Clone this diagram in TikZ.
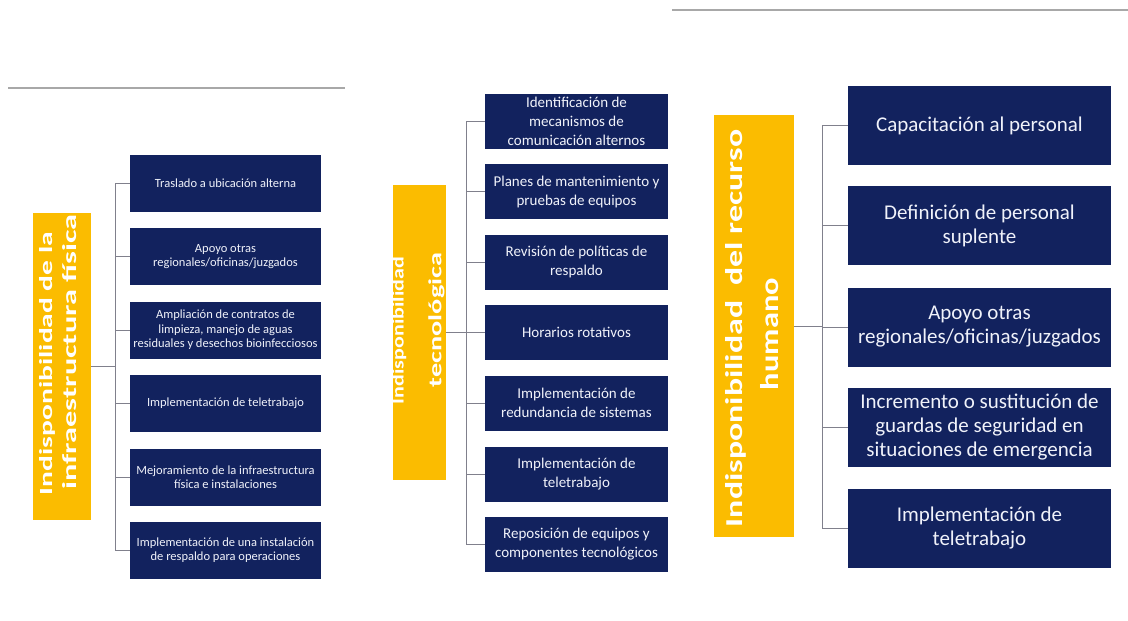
\documentclass[tikz,border=0pt]{standalone}
\usepackage{fontspec}
\setmainfont{Carlito}
\definecolor{navy}{HTML}{12225E}
\definecolor{gold}{HTML}{FBBC00}
\definecolor{conn}{HTML}{80808C}
\definecolor{rulegray}{HTML}{A8A8A8}
\definecolor{boxtext}{HTML}{F0F2FA}
\begin{document}
\begin{tikzpicture}[x=1pt,y=-1pt,
  box/.style={fill=navy, text=boxtext, align=center, inner sep=0pt, anchor=center},
  lbox/.style={box, minimum width=191pt, minimum height=57pt, font=\fontsize{12.5}{14.5}\selectfont},
  mbox/.style={box, minimum width=183pt, minimum height=55pt, font=\fontsize{15}{19}\selectfont},
  rbox/.style={box, minimum width=263pt, minimum height=79pt, font=\fontsize{21}{24}\selectfont},
  ybox/.style={fill=gold, inner sep=0pt, anchor=center},
  ytext/.style={text=white, inner sep=0pt, rotate=90, anchor=center},
  link/.style={draw=conn, line width=1pt},
  topline/.style={draw=rulegray, line width=2pt}]
\useasboundingbox (0,0) rectangle (1128,621);
\fill[white] (0,0) rectangle (1128,621);

% decorative rules
\coordinate (ta) at (672,10);
\coordinate (tb) at (1128,10);
\coordinate (la) at (8,88);
\coordinate (lb) at (345,88);
\draw[topline] (ta) -- (tb);
\draw[topline] (la) -- (lb);

% ---------------- left group ----------------
\node[ybox, minimum width=58pt, minimum height=307pt] (ly) at (62,366.5) {};
\node[ytext] (lyt1) at (47,363.5) {\resizebox{263pt}{13pt}{\bfseries Indisponibilidad de la}};
\node[ytext] (lyt2) at (70,352) {\resizebox{275pt}{14pt}{\bfseries infraestructura física}};

\node[lbox] (l1) at (225.5,183.5) {Traslado a ubicación alterna};
\node[lbox] (l2) at (225.5,256.5) {Apoyo otras\\regionales/oficinas/juzgados};
\node[lbox] (l3) at (225.5,330) {Ampliación de contratos de\\limpieza, manejo de aguas\\residuales y desechos bioinfecciosos};
\node[lbox] (l4) at (225.5,403.5) {Implementación de teletrabajo};
\node[lbox] (l5) at (225.5,477) {Mejoramiento de la infraestructura\\física e instalaciones};
\node[lbox] (l6) at (225.5,550) {Implementación de una instalación\\de respaldo para operaciones};

\coordinate (lt) at (115,366.5);
\draw[link] (ly.east) -- (lt);
\draw[link] (lt |- l1.west) -- (lt |- l6.west);
\foreach \n in {l1,l2,l3,l4,l5,l6} \draw[link] (lt |- \n.west) -- (\n.west);

% ---------------- middle group ----------------
\node[ybox, minimum width=53pt, minimum height=295pt] (my) at (419.5,332.5) {};
\node[ytext] (myt1) at (399,330.5) {\resizebox{147pt}{12pt}{\bfseries Indisponibilidad}};
\node[ytext] (myt2) at (436.5,320) {\resizebox{134pt}{13pt}{\bfseries tecnológica}};

\node[mbox] (m1) at (576.5,121.5) {Identificación de\\mecanismos de\\comunicación alternos};
\node[mbox] (m2) at (576.5,191.5) {Planes de mantenimiento y\\pruebas de equipos};
\node[mbox] (m3) at (576.5,262) {Revisión de políticas de\\respaldo};
\node[mbox] (m4) at (576.5,332.5) {Horarios rotativos};
\node[mbox] (m5) at (576.5,403) {Implementación de\\redundancia de sistemas};
\node[mbox] (m6) at (576.5,474) {Implementación de\\teletrabajo};
\node[mbox] (m7) at (576.5,544.5) {Reposición de equipos y\\componentes tecnológicos};

\coordinate (mt) at (466,332.5);
\draw[link] (my.east) -- (mt);
\draw[link] (mt |- m1.west) -- (mt |- m7.west);
\foreach \n in {m1,m2,m3,m4,m5,m6,m7} \draw[link] (mt |- \n.west) -- (\n.west);

% ---------------- right group ----------------
\node[ybox, minimum width=80pt, minimum height=422pt] (ry) at (754,326) {};
\node[ytext] (ryt1) at (736,328.5) {\resizebox{397pt}{17pt}{\bfseries Indisponibilidad\ \ del recurso}};
\node[ytext] (ryt2) at (770,334) {\resizebox{112pt}{18pt}{\bfseries humano}};

\node[rbox] (r1) at (979.5,125.5) {Capacitación al personal};
\node[rbox] (r2) at (979.5,225.5) {Definición de personal\\suplente};
\node[rbox] (r3) at (979.5,327) {Apoyo otras\\regionales/oficinas/juzgados};
\node[rbox] (r4) at (979.5,427) {Incremento o sustitución de\\guardas de seguridad en\\situaciones de emergencia};
\node[rbox] (r5) at (979.5,528) {Implementación de\\teletrabajo};

\coordinate (rt) at (822,326);
\draw[link] (ry.east) -- (rt);
\draw[link] (rt |- r1.west) -- (rt |- r5.west);
\foreach \n in {r1,r2,r3,r4,r5} \draw[link] (rt |- \n.west) -- (\n.west);
\end{tikzpicture}
\end{document}
